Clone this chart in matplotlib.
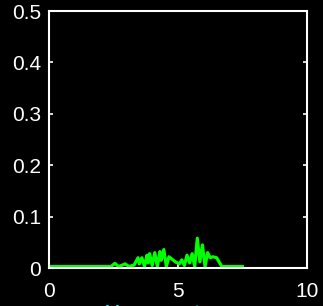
import matplotlib
matplotlib.use("Agg")
import matplotlib.pyplot as plt

# green trace
x_vals = [0.0, 2.4, 2.55, 2.7, 2.95, 3.1, 3.3, 3.45, 3.5, 3.6, 3.7, 3.8, 3.85,
          3.9, 4.0, 4.1, 4.2, 4.3, 4.35, 4.45, 4.55, 4.65, 4.75, 4.9, 5.05,
          5.15, 5.25, 5.35, 5.45, 5.55, 5.65, 5.75, 5.85, 5.95, 6.05, 6.15,
          6.25, 6.35, 6.5, 6.7, 7.5]
y_vals = [0.003, 0.003, 0.009, 0.003, 0.008, 0.003, 0.006, 0.02, 0.008, 0.02,
          0.003, 0.025, 0.01, 0.028, 0.005, 0.03, 0.003, 0.032, 0.015, 0.036,
          0.003, 0.022, 0.018, 0.012, 0.008, 0.016, 0.005, 0.025, 0.01, 0.028,
          0.003, 0.058, 0.012, 0.045, 0.003, 0.03, 0.02, 0.022, 0.02, 0.003,
          0.003]

x_ticks = [0, 5, 10]
y_ticks = [0, 0.1, 0.2, 0.3, 0.4, 0.5]
y_tick_labels = ["0", "0.1", "0.2", "0.3", "0.4", "0.5"]

plt.rcParams['font.family'] = ['Liberation Sans', 'DejaVu Sans']

fig = plt.figure(figsize=(3.23, 3.06), dpi=100, facecolor='black')
ax = fig.add_axes([0.152, 0.124, 0.798, 0.84], facecolor='black')

ax.plot(x_vals, y_vals, color='#00ff00', linewidth=2.3)

ax.set_xlim(0, 10)
ax.set_ylim(0, 0.5)
ax.set_xticks(x_ticks)
ax.set_yticks(y_ticks)
ax.set_yticklabels(y_tick_labels)

for s in ax.spines.values():
    s.set_color('white')
    s.set_linewidth(1.5)

ax.tick_params(axis='both', direction='in', colors='white', labelsize=15,
               length=3, width=1.2, right=True, top=False)
ax.tick_params(axis='x', pad=10)
ax.tick_params(axis='y', pad=6)

# label sits mostly below the figure edge, as in the reference
ax.set_xlabel("X amount", color='cyan', fontsize=16)
ax.xaxis.set_label_coords(0.4, -0.138)

fig.savefig("out.png", dpi=100, facecolor='black')
